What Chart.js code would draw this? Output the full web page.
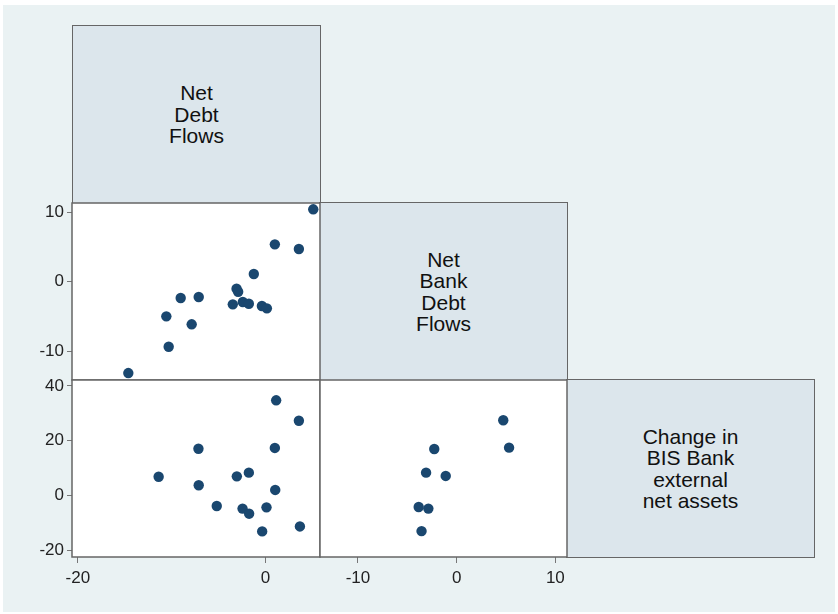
<!DOCTYPE html>
<html>
<head>
<meta charset="utf-8">
<script src="https://cdn.jsdelivr.net/npm/chart.js@4"></script>
<style>
  body { margin: 0; background: #fff; font-family: "Liberation Sans", Arial, sans-serif; }
  #wrap { position: relative; width: 838px; height: 614px; background: #fff; overflow: hidden; }
  #bg { position: absolute; left: 3px; top: 5px; width: 832px; height: 607px; background: #eaf2f3; }
  .lab {
    position: absolute; box-sizing: border-box; border: 1.5px solid #666; background: #dce6ec;
    display: flex; align-items: center; justify-content: center; text-align: center;
    font-size: 21px; line-height: 21.5px; color: #111;
  }
  canvas { position: absolute; }
</style>
</head>
<body>
<div id="wrap">
  <div id="bg"></div>
  <div class="lab" style="left:72px;top:25px;width:249px;height:179px;">Net<br>Debt<br>Flows</div>
  <div class="lab" style="left:319px;top:202px;width:249px;height:179px;">Net<br>Bank<br>Debt<br>Flows</div>
  <div class="lab" style="left:566px;top:379px;width:249px;height:179px;">Change in<br>BIS Bank<br>external<br>net assets</div>
  <canvas id="pA" width="340" height="217" style="left:0px;top:183px;"></canvas>
  <canvas id="pB" width="340" height="250" style="left:0px;top:360px;"></canvas>
  <canvas id="pC" width="287" height="250" style="left:300px;top:360px;"></canvas>
</div>
<script>
// Net Bank Debt Flows (y) vs Net Debt Flows (x)
const debtA = [5.08, 0.99, 3.55, -1.25, -3.09, -2.92, -9.04, -7.12, -3.49, -2.42, -1.78, -0.39, 0.14, -10.57, -7.87, -10.32, -14.62];
const bankA = [10.44, 5.39, 4.72, 1.11, -1.01, -1.44, -2.35, -2.21, -3.26, -2.93, -3.17, -3.50, -3.84, -4.99, -6.14, -9.37, -13.17];

// BIS change (y) vs Net Debt Flows (x)
const debtB = [1.13, 3.55, -7.15, 0.99, -11.39, -3.06, -1.78, -7.12, 1.03, -5.2, -2.45, -1.75, 0.1, -0.36, 3.66];
const bisB  = [34.75, 27.3, 17.1, 17.4, 6.9, 7.05, 8.4, 3.8, 2.1, -3.75, -4.7, -6.55, -4.25, -13.0, -11.2];

// BIS change (y) vs Net Bank Debt Flows (x)
const bankC = [4.72, 5.31, -2.27, -3.10, -1.11, -3.85, -2.87, -3.56];
const bisC  = [27.5, 17.5, 17.0, 8.4, 7.2, -4.1, -4.7, -12.9];

// axis ticks
const debtTicks = [-20, 0];
const bankTicks = [-10, 0, 10];
const bisTicks = [-20, 0, 20, 40];

const ranges = {
  debt: [-20.62, 5.80],
  bank: [-14.17, 11.35],
  bankX: [-13.85, 11.18],
  bis: [-22.33, 42.15]
};

const dotColor = "#1a476f";
const tickFont = { family: "'Liberation Sans', Arial, sans-serif", size: 17 };

// box around each plot area
const cellBorder = {
  id: "cellBorder",
  afterDraw(chart) {
    const a = chart.chartArea, ctx = chart.ctx;
    ctx.save();
    ctx.strokeStyle = "#666";
    ctx.lineWidth = 1.5;
    ctx.strokeRect(a.left, a.top, a.right - a.left, a.bottom - a.top);
    ctx.restore();
  }
};
const cellFill = {
  id: "cellFill",
  beforeDraw(chart) {
    const a = chart.chartArea, ctx = chart.ctx;
    ctx.save();
    ctx.fillStyle = "#fff";
    ctx.fillRect(a.left, a.top, a.right - a.left, a.bottom - a.top);
    ctx.restore();
  }
};

function axis(range, ticks, show, isY) {
  const o = {
    type: "linear",
    min: range[0],
    max: range[1],
    display: show,
    position: isY ? "left" : "bottom",
    grid: { drawOnChartArea: false, drawTicks: true, tickLength: isY ? 5 : 6, color: "#777", lineWidth: 1 },
    border: { display: false },
    ticks: { font: tickFont, color: "#222", padding: isY ? 3 : 5, autoSkip: false, maxRotation: 0 },
    afterBuildTicks: (s) => { s.ticks = ticks.map(v => ({ value: v })); }
  };
  // fixed axis sizes so the cells line up (only for visible axes)
  if (show) {
    if (isY) o.afterFit = (s) => { s.width = 72; };
    else o.afterFit = (s) => { s.height = 53; };
  }
  return o;
}

function makePanel(id, xs, ys, xAxis, yAxis, pad) {
  return new Chart(document.getElementById(id), {
    type: "scatter",
    data: {
      datasets: [{
        data: xs.map((x, i) => ({ x: x, y: ys[i] })),
        backgroundColor: dotColor,
        borderColor: dotColor,
        pointRadius: 5.2,
        borderWidth: 0
      }]
    },
    options: {
      responsive: false,
      animation: false,
      layout: { padding: pad },
      plugins: { legend: { display: false }, tooltip: { enabled: false } },
      scales: { x: xAxis, y: yAxis }
    },
    plugins: [cellFill, cellBorder]
  });
}

makePanel("pA", debtA, bankA,
  axis(ranges.debt, debtTicks, false, false),
  axis(ranges.bank, bankTicks, true, true),
  { top: 20, bottom: 20, right: 20, left: 0 });

makePanel("pB", debtB, bisB,
  axis(ranges.debt, debtTicks, true, false),
  axis(ranges.bis, bisTicks, true, true),
  { top: 20, bottom: 0, right: 20, left: 0 });

makePanel("pC", bankC, bisC,
  axis(ranges.bankX, bankTicks, true, false),
  axis(ranges.bis, bisTicks, false, true),
  { top: 20, bottom: 0, right: 20, left: 20 });
</script>
</body>
</html>
